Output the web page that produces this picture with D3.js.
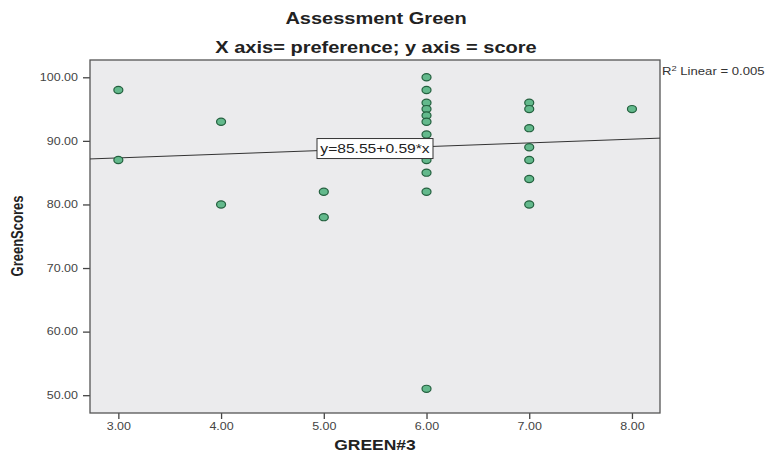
<!DOCTYPE html>
<html><head><meta charset="utf-8">
<script src="https://cdn.jsdelivr.net/npm/d3@7"></script>
<style>body{margin:0;background:#fff;} svg{display:block;}</style>
</head><body>
<svg id="c" width="767" height="454"></svg>
<script>
// ---- data ----
const greenX  = [3,3, 4,4, 5,5, 6,6,6,6,6,6,6,6,6,6,6, 7,7,7,7,7,7,7,8];
const greenScores = [98,87, 93,80, 82,78, 100,98,96,95,94,93,91,87,85,82,51, 96,95,92,89,87,84,80,95];
const xTicks = [3,4,5,6,7,8];
const yTicks = [50,60,70,80,90,100];
const fitIntercept = 85.55, fitSlope = 0.59;
const fitLabel = "y=85.55+0.59*x";
const r2Value = "0.005";

// ---- layout ----
const S = 1.25; // horizontal text stretch
const svg = d3.select("#c");
const L = 90, R = 660, T = 60, B = 413;
const x = d3.scaleLinear().domain([2.724, 8.273]).range([L, R]);
const y = d3.scaleLinear().domain([47.2, 102.72]).range([B, T]);

svg.append("rect").attr("x", L).attr("y", T).attr("width", R-L).attr("height", B-T)
  .attr("fill", "#ebebed").attr("stroke", "none");

function stext(px, py, txt, opts) {
  const t = svg.append("text")
    .attr("transform", `translate(${px},${py}) scale(${S},1)` + (opts.rot ? " rotate(-90)" : ""))
    .attr("text-anchor", opts.anchor || "middle")
    .attr("font-family", "Liberation Sans, Arial, sans-serif")
    .attr("font-size", opts.size)
    .attr("font-weight", opts.bold ? "bold" : "normal")
    .attr("fill", opts.fill || "#222")
    .text(txt);
  return t;
}

// axes
const xAxis = svg.append("g").attr("transform", `translate(0,${B})`)
  .call(d3.axisBottom(x).tickValues(xTicks).tickFormat(d3.format(".2f")).tickSize(6).tickSizeOuter(0));
const yAxis = svg.append("g").attr("transform", `translate(${L},0)`)
  .call(d3.axisLeft(y).tickValues(yTicks).tickFormat(d3.format(".2f")).tickSize(7).tickSizeOuter(0));
[xAxis, yAxis].forEach(g => {
  g.select(".domain").remove();
  g.selectAll(".tick line").attr("stroke", "#444").attr("stroke-width", 1.3);
  g.selectAll(".tick text").attr("font-family", "Liberation Sans, Arial, sans-serif")
    .attr("font-size", 10).attr("fill", "#444").attr("transform", `scale(${S},1)`);
});
xAxis.selectAll(".tick text").attr("y", 10);
yAxis.selectAll(".tick text").attr("x", -12 / S);

// frame
svg.append("rect").attr("x", L).attr("y", T).attr("width", R-L).attr("height", B-T)
  .attr("fill", "none").attr("stroke", "#555").attr("stroke-width", 1.3);

// fit line
const x0 = x.domain()[0], x1 = x.domain()[1];
svg.append("line")
  .attr("x1", x(x0)).attr("y1", y(fitIntercept + fitSlope * x0))
  .attr("x2", x(x1)).attr("y2", y(fitIntercept + fitSlope * x1))
  .attr("stroke", "#333").attr("stroke-width", 1);

// points
const pts = greenX.map((v, i) => ({ x: v, y: greenScores[i] }));
svg.append("g").selectAll("ellipse").data(pts).join("ellipse")
  .attr("cx", d => x(d.x)).attr("cy", d => y(d.y))
  .attr("rx", 4.5).attr("ry", 3.6)
  .attr("fill", "#63b98c").attr("stroke", "#24603f").attr("stroke-width", 1.2);

// fit label box at plot centre on the line
const xm = x.invert((L + R) / 2);
const cx = x(xm), cy = y(fitIntercept + fitSlope * xm);
svg.append("rect").attr("x", cx - 58).attr("y", cy - 10).attr("width", 116).attr("height", 20)
  .attr("fill", "#fff").attr("stroke", "#333").attr("stroke-width", 1);
stext(cx, cy + 4.5, fitLabel, { size: 12.5, fill: "#222" });

// R2 label
const r2 = svg.append("text")
  .attr("transform", `translate(662,75) scale(${S},1)`)
  .attr("font-family", "Liberation Sans, Arial, sans-serif").attr("font-size", 10.5).attr("fill", "#333");
r2.append("tspan").text("R");
r2.append("tspan").attr("dy", -4).attr("font-size", 7.5).text("2");
r2.append("tspan").attr("dy", 4).text(" Linear = " + r2Value);

// titles
stext(376, 24, "Assessment Green", { size: 16, bold: true });
stext(376, 53, "X axis= preference; y axis = score", { size: 16, bold: true });
stext(375, 450, "GREEN#3", { size: 14, bold: true });
stext(23, 236, "GreenScores", { size: 13, bold: true, rot: true });
</script>
</body></html>
